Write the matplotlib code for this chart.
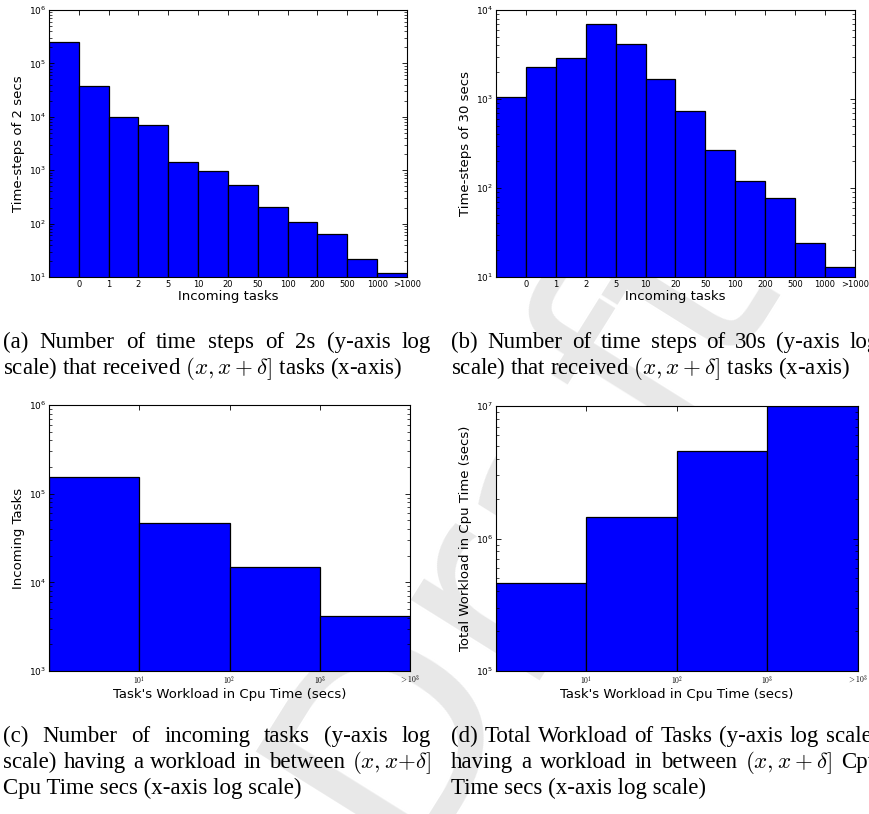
import numpy as np
import matplotlib
matplotlib.use("Agg")
from matplotlib import pyplot as plt

# bins of incoming tasks per time step
bin_labels = ['0', '1', '2', '5', '10', '20', '50', '100', '200', '500', '1000', '>1000']
steps_2s = [2.5e5, 3.7e4, 1.0e4, 7.0e3, 1400, 975, 533, 201, 107, 64, 22, 12]
steps_30s = [1040, 2300, 2900, 7000, 4200, 1660, 724, 270, 119, 77, 24, 13]

# workload bins (cpu secs)
work_edges = [1, 10, 100, 1000, 10000]
work_labels = ['$10^1$', '$10^2$', '$10^3$', '$>10^3$']
tasks_count = [1.53e5, 4.7e4, 1.49e4, 4170]
total_work = [4.58e5, 1.46e6, 4.55e6, 1.0e7]

W, H = 870, 814
fig = plt.figure(figsize=(W / 100, H / 100), dpi=100)
fig.patch.set_facecolor('white')

# faint watermark behind the panels
fig.text(0.60, 0.36, 'Draft', rotation=58, fontsize=200, color='#e8e8e8',
         ha='center', va='center', zorder=-5)


def px_axes(l, t, r, b):
    return fig.add_axes([l / W, 1 - b / H, (r - l) / W, (b - t) / H])


def style(ax):
    ax.set_facecolor('white')
    ax.tick_params(which='both', direction='in', top=True, right=True, labelsize=6, pad=2)
    ax.tick_params(which='major', length=3.5, width=0.6)
    ax.tick_params(which='minor', length=2, width=0.5)
    ax.tick_params(axis='y', labelsize=6.5)
    for s in ax.spines.values():
        s.set_linewidth(0.8)


def step_hist(ax, vals, ylim, ylabel):
    ax.set_yscale('log')
    x = np.arange(len(vals))
    ax.bar(x, vals, width=1, align='edge', color='#0000ff', edgecolor='black', linewidth=0.9)
    ax.set_xlim(0, len(vals))
    ax.set_ylim(*ylim)
    ax.set_xticks(x + 1)
    ax.set_xticklabels(bin_labels)
    ax.set_xlabel('Incoming tasks', fontsize=9.5, labelpad=1)
    ax.set_ylabel(ylabel, fontsize=9.5, labelpad=3)
    style(ax)


def work_hist(ax, vals, ylim, ylabel):
    ax.set_yscale('log')
    ax.set_xscale('log')
    ax.bar(work_edges[:-1], vals, width=np.diff(work_edges), align='edge',
           color='#0000ff', edgecolor='black', linewidth=0.9)
    ax.set_xlim(work_edges[0], work_edges[-1])
    ax.set_ylim(*ylim)
    ax.set_xticks(work_edges[1:])
    ax.set_xticklabels(work_labels)
    ax.xaxis.set_minor_locator(matplotlib.ticker.NullLocator())
    ax.set_xlabel("Task's Workload in Cpu Time (secs)", fontsize=9.5, labelpad=1)
    ax.set_ylabel(ylabel, fontsize=9.5, labelpad=3)
    style(ax)
    for t in ax.get_xticklabels():
        t.set_math_fontfamily('cm')
        t.set_fontsize(5.5)


ax1 = px_axes(49, 10, 407, 277)
step_hist(ax1, steps_2s, (10, 1e6), 'Time-steps of 2 secs')
ax2 = px_axes(496, 10, 855, 277)
step_hist(ax2, steps_30s, (10, 1e4), 'Time-steps of 30 secs')
ax3 = px_axes(49, 405, 410, 671)
work_hist(ax3, tasks_count, (1e3, 1e6), 'Incoming Tasks')
ax4 = px_axes(496, 406, 858, 671)
work_hist(ax4, total_work, (1e5, 1e7), 'Total Workload in Cpu Time (secs)')

# captions, justified like the paper's two-column text
cap_font = dict(fontsize=16.5, family='Liberation Serif', math_fontfamily='cm', color='black')
renderer = fig.canvas.get_renderer()


def cap_line(x0, x1, ybase, line, justify=True):
    if not justify:
        fig.text(x0 / W, 1 - ybase / H, line, va='baseline', ha='left', **cap_font)
        return
    words = line.split(' ')
    objs = [fig.text(0, 1 - ybase / H, w, va='baseline', ha='left', **cap_font) for w in words]
    widths = [o.get_window_extent(renderer).width for o in objs]
    gap = (x1 - x0 - sum(widths)) / (len(words) - 1)
    x = x0
    for o, w in zip(objs, widths):
        o.set_x(x / W)
        x += w + gap


L0, L1 = 3, 431
R0, R1 = 451, 879
cap_line(L0, L1, 348, '(a) Number of time steps of 2s (y-axis log')
cap_line(L0, L1, 374, r'scale) that received $(x,x+\delta]$ tasks (x-axis)', False)
cap_line(R0, R1, 348, '(b) Number of time steps of 30s (y-axis log')
cap_line(R0, R1, 374, r'scale) that received $(x,x+\delta]$ tasks (x-axis)', False)
cap_line(L0, L1, 742, '(c) Number of incoming tasks (y-axis log')
cap_line(L0, L1, 768, r'scale) having a workload in between $(x,x{+}\delta]$')
cap_line(L0, L1, 794, 'Cpu Time secs (x-axis log scale)', False)
cap_line(R0, R1, 742, '(d) Total Workload of Tasks (y-axis log scale)')
cap_line(R0, R1, 768, r'having a workload in between $(x,x+\delta]$ Cpu')
cap_line(R0, R1, 794, 'Time secs (x-axis log scale)', False)

fig.savefig('out.png', dpi=100)
